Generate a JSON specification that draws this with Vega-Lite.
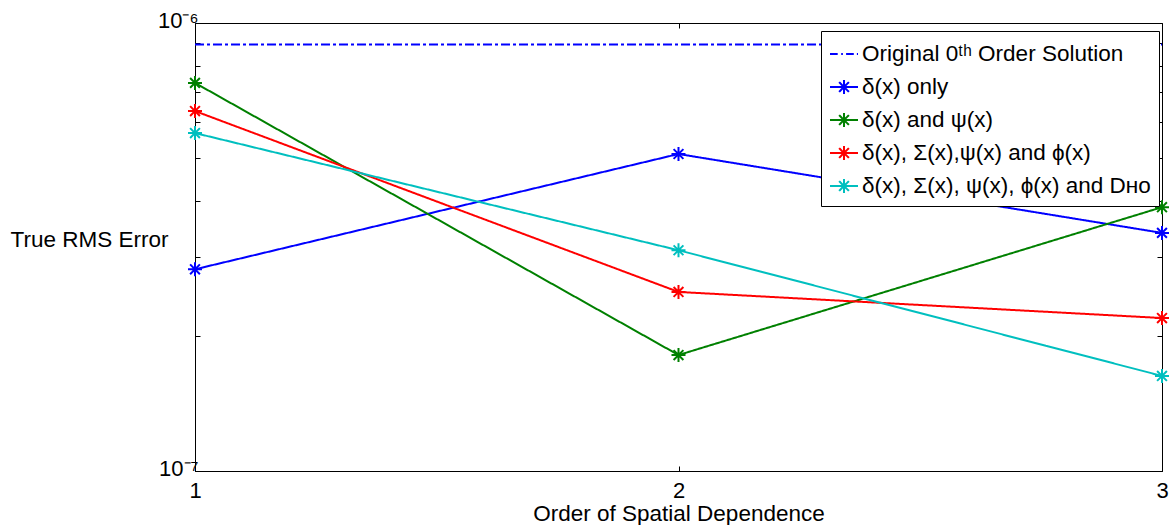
{
  "$schema": "https://vega.github.io/schema/vega-lite/v6.json",
  "width": 967,
  "height": 448,
  "autosize": "none",
  "padding": {"left": 195, "top": 23, "right": 9, "bottom": 54},
  "background": "white",
  "config": {
    "view": {"stroke": "black", "strokeWidth": 1},
    "font": "Liberation Sans",
    "axis": {
      "grid": false,
      "domainColor": "black",
      "tickColor": "black",
      "labelColor": "black",
      "titleColor": "black",
      "labelFont": "Liberation Sans",
      "titleFont": "Liberation Sans",
      "labelFontSize": 22,
      "titleFontSize": 22.5,
      "titleFontWeight": "normal"
    }
  },
  "data": {
    "values": [
      {"series": "Original 0ᵗʰ Order Solution", "order": 1, "rms": 8.95e-7},
      {"series": "Original 0ᵗʰ Order Solution", "order": 2, "rms": 8.95e-7},
      {"series": "Original 0ᵗʰ Order Solution", "order": 3, "rms": 8.95e-7},
      {"series": "δ(x) only", "order": 1, "rms": 2.82e-7},
      {"series": "δ(x) only", "order": 2, "rms": 5.10e-7},
      {"series": "δ(x) only", "order": 3, "rms": 3.40e-7},
      {"series": "δ(x) and ψ(x)", "order": 1, "rms": 7.35e-7},
      {"series": "δ(x) and ψ(x)", "order": 2, "rms": 1.815e-7},
      {"series": "δ(x) and ψ(x)", "order": 3, "rms": 3.88e-7},
      {"series": "δ(x), Σ(x),ψ(x) and ϕ(x)", "order": 1, "rms": 6.36e-7},
      {"series": "δ(x), Σ(x),ψ(x) and ϕ(x)", "order": 2, "rms": 2.51e-7},
      {"series": "δ(x), Σ(x),ψ(x) and ϕ(x)", "order": 3, "rms": 2.195e-7},
      {"series": "δ(x), Σ(x), ψ(x), ϕ(x) and Dʜᴏ", "order": 1, "rms": 5.68e-7},
      {"series": "δ(x), Σ(x), ψ(x), ϕ(x) and Dʜᴏ", "order": 2, "rms": 3.11e-7},
      {"series": "δ(x), Σ(x), ψ(x), ϕ(x) and Dʜᴏ", "order": 3, "rms": 1.63e-7}
    ]
  },
  "layer": [
    {
      "mark": {"type": "line", "strokeWidth": 2},
      "encoding": {
        "x": {
          "field": "order", "type": "quantitative",
          "scale": {"domain": [1, 3], "nice": false, "zero": false},
          "axis": {"tickCount": 2, "tickMinStep": 1, "title": "Order of Spatial Dependence", "tickSize": -5, "labelPadding": 14, "labelOverlap": false, "labelFlush": false, "titleY": 42, "titleBaseline": "middle"}
        },
        "y": {
          "field": "rms", "type": "quantitative",
          "scale": {"type": "log", "domain": [1e-7, 1e-6], "nice": false},
          "axis": {
            "values": [1e-7, 2e-7, 3e-7, 4e-7, 5e-7, 6e-7, 7e-7, 8e-7, 9e-7, 1e-6],
            "labelExpr": "datum.value >= 9.9e-7 ? '10⁻⁶' : (datum.value <= 1.01e-7 ? '10⁻⁷' : '')",
            "labelOverlap": false, "labelFlush": false, "labelOffset": -3,
            "title": "True RMS Error", "titleAngle": 0, "titleAlign": "left", "titleX": -185, "titleY": 216, "titleBaseline": "middle",
            "tickSize": -5, "labelPadding": 2
          }
        },
        "color": {
          "field": "series", "type": "nominal",
          "scale": {
            "domain": ["Original 0ᵗʰ Order Solution", "δ(x) only", "δ(x) and ψ(x)", "δ(x), Σ(x),ψ(x) and ϕ(x)", "δ(x), Σ(x), ψ(x), ϕ(x) and Dʜᴏ"],
            "range": ["#0000FF", "#0000FF", "#008000", "#FF0000", "#00BFBF"]
          },
          "legend": {
            "title": null, "orient": "none", "legendX": 626, "legendY": 8, "direction": "vertical",
            "strokeColor": "black", "fillColor": "white", "padding": 8, "cornerRadius": 0,
            "labelFontSize": 22.5, "labelFont": "Liberation Sans", "labelColor": "black", "labelLimit": 600,
            "symbolSize": 784, "symbolStrokeWidth": 2, "labelOffset": 3, "rowPadding": 6, "symbolOffset": 0,
            "encode": {
              "symbols": {
                "update": {
                  "shape": {"signal": "datum.value === 'Original 0ᵗʰ Order Solution' ? 'M-1,0H-0.45M-0.2,0H-0.08M0.15,0H0.7M0.92,0H1' : 'M-1,0H1M-0.5,0H0.5M0,-0.5V0.5M-0.35,-0.35L0.35,0.35M-0.35,0.35L0.35,-0.35'"},
                  "fill": {"value": "transparent"},
                  "strokeDash": {"value": [1, 0]}
                }
              }
            }
          }
        },
        "strokeDash": {
          "field": "series", "type": "nominal",
          "scale": {
            "domain": ["Original 0ᵗʰ Order Solution", "δ(x) only", "δ(x) and ψ(x)", "δ(x), Σ(x),ψ(x) and ϕ(x)", "δ(x), Σ(x), ψ(x), ϕ(x) and Dʜᴏ"],
            "range": [[9, 3, 3, 3], [1, 0], [1, 0], [1, 0], [1, 0]]
          },
          "legend": null
        }
      }
    },
    {
      "transform": [{"filter": "datum.series !== 'Original 0ᵗʰ Order Solution'"}],
      "mark": {"type": "point", "shape": "M-1,0H1M0,-1V1M-0.7,-0.7L0.7,0.7M-0.7,0.7L0.7,-0.7", "filled": false, "size": 196, "strokeWidth": 2, "opacity": 1},
      "encoding": {
        "x": {
          "field": "order", "type": "quantitative",
          "axis": {"orient": "top", "tickCount": 2, "tickMinStep": 1, "labels": false, "title": null, "tickSize": -5, "domain": false}
        },
        "y": {
          "field": "rms", "type": "quantitative",
          "axis": {"orient": "right", "values": [1e-7, 2e-7, 3e-7, 4e-7, 5e-7, 6e-7, 7e-7, 8e-7, 9e-7, 1e-6], "labels": false, "title": null, "tickSize": -5, "domain": false}
        },
        "color": {"field": "series", "type": "nominal"}
      }
    }
  ],
  "resolve": {"axis": {"x": "independent", "y": "independent"}}
}
